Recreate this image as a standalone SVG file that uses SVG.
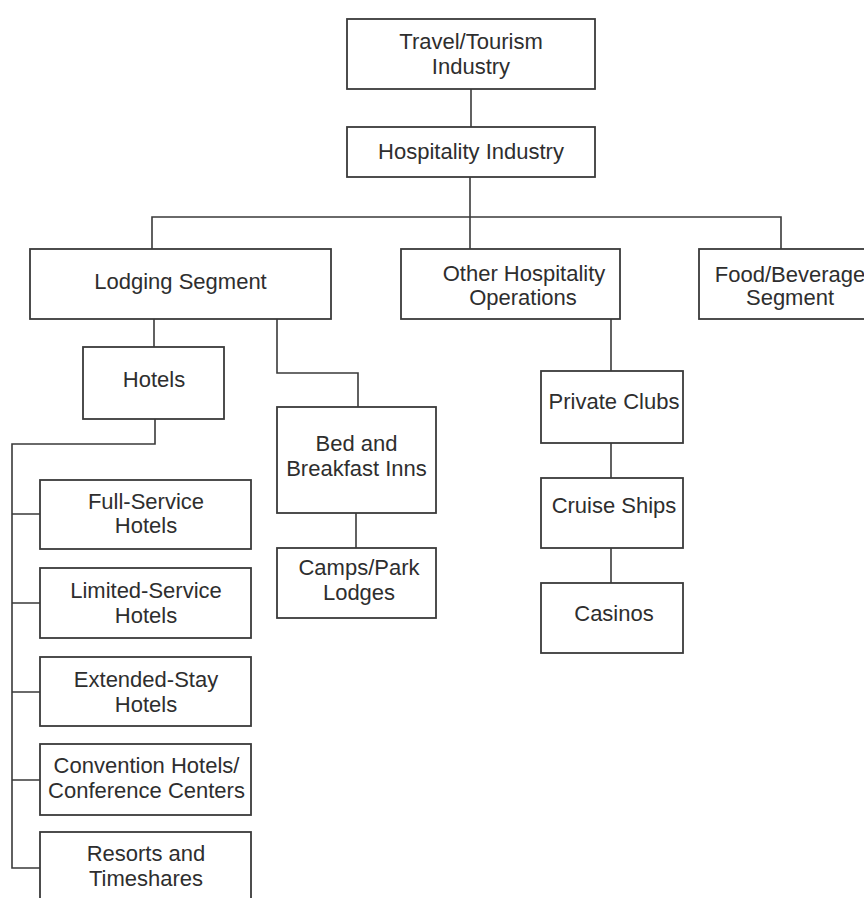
<svg xmlns="http://www.w3.org/2000/svg" width="864" height="898" viewBox="0 0 864 898">
<style>
rect{fill:#fff;stroke:#3a3a3a;stroke-width:1.8}
text{font-family:"Liberation Sans",Arial,sans-serif;font-size:22px;fill:#2e2e2e;text-anchor:middle}
.c path{fill:none;stroke:#3a3a3a;stroke-width:1.6}
</style>
<rect x="0" y="0" width="864" height="898" style="fill:#fff;stroke:none"/>
<g class="c" id="connectors">
<path d="M471 89V127"/>
<path d="M470 177V249"/>
<path d="M152 249V217H781V249"/>
<path d="M154 319V347"/>
<path d="M277 319V373H358V408"/>
<path d="M155 419V444H12V868H40"/>
<path d="M12 514H40M12 603H40M12 692H40M12 780H40"/>
<path d="M356 513V548"/>
<path d="M611 319V371"/>
<path d="M611 443V478"/>
<path d="M611 548V583"/>
</g>
<g id="travel"><rect x="347" y="19" width="248" height="70"/><text x="471" y="49">Travel/Tourism</text><text x="471" y="74">Industry</text></g>
<g id="hospitality"><rect x="347" y="127" width="248" height="50"/><text x="471" y="159">Hospitality Industry</text></g>
<g id="lodging"><rect x="30" y="249" width="301" height="70"/><text x="180.5" y="289">Lodging Segment</text></g>
<g id="other"><rect x="401" y="249" width="219" height="70"/><text x="524" y="281">Other Hospitality</text><text x="523" y="305">Operations</text></g>
<g id="food"><rect x="699" y="249" width="175" height="70"/><text x="790" y="282">Food/Beverage</text><text x="790" y="305">Segment</text></g>
<g id="hotels"><rect x="83" y="347" width="141" height="72"/><text x="154" y="387">Hotels</text></g>
<g id="bnb"><rect x="277" y="407" width="159" height="106"/><text x="356.5" y="451">Bed and</text><text x="356.5" y="476">Breakfast Inns</text></g>
<g id="camps"><rect x="277" y="548" width="159" height="70"/><text x="359" y="575">Camps/Park</text><text x="359" y="600">Lodges</text></g>
<g id="clubs"><rect x="541" y="371" width="142" height="72"/><text x="614" y="409">Private Clubs</text></g>
<g id="cruise"><rect x="541" y="478" width="142" height="70"/><text x="614" y="513">Cruise Ships</text></g>
<g id="casinos"><rect x="541" y="583" width="142" height="70"/><text x="614" y="621">Casinos</text></g>
<g id="full"><rect x="40" y="480" width="211" height="69"/><text x="146" y="509">Full-Service</text><text x="146" y="533">Hotels</text></g>
<g id="limited"><rect x="40" y="568" width="211" height="70"/><text x="146" y="598">Limited-Service</text><text x="146" y="623">Hotels</text></g>
<g id="extended"><rect x="40" y="657" width="211" height="69"/><text x="146" y="687">Extended-Stay</text><text x="146" y="712">Hotels</text></g>
<g id="convention"><rect x="40" y="744" width="211" height="71"/><text x="146.5" y="773">Convention Hotels/</text><text x="146.5" y="798">Conference Centers</text></g>
<g id="resorts"><rect x="40" y="832" width="211" height="80"/><text x="146" y="861">Resorts and</text><text x="146" y="886">Timeshares</text></g>
</svg>
